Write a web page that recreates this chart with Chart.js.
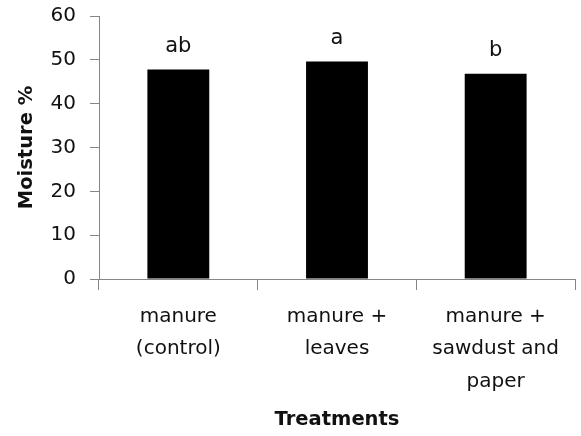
<!DOCTYPE html>
<html>
<head>
<meta charset="utf-8">
<script src="https://cdn.jsdelivr.net/npm/chart.js@4.4.1/dist/chart.umd.min.js"></script>
<style>
  html, body { margin: 0; padding: 0; background: #ffffff; }
  #wrap { width: 581px; height: 436px; }
</style>
</head>
<body>
<div id="wrap"><canvas id="chart" width="581" height="436"></canvas></div>
<script>
// Treatments (multi-line category labels)
const categories = [
  ["manure", "(control)"],
  ["manure +", "leaves"],
  ["manure +", "sawdust and", "paper"]
];
// Mean moisture content (%) per treatment
const moisture = [47.8, 49.6, 46.8];
// Significance grouping letters shown above each bar
const groupLetters = ["ab", "a", "b"];
// Y axis range and step
const yMin = 0;
const yMax = 60;
const yStep = 10;

const axisGray = "#868686";
const textDark = "#111111";
const fontFamily = "'DejaVu Sans', Verdana, sans-serif";

// Draws the grouping letters above the bars
const letterPlugin = {
  id: "groupLetters",
  afterDatasetsDraw(chart) {
    const ctx = chart.ctx;
    const meta = chart.getDatasetMeta(0);
    ctx.save();
    ctx.font = "21px " + fontFamily;
    ctx.fillStyle = textDark;
    ctx.textAlign = "center";
    ctx.textBaseline = "middle";
    meta.data.forEach((bar, i) => {
      ctx.fillText(groupLetters[i], bar.x, bar.y - 23);
    });
    ctx.restore();
  }
};

new Chart(document.getElementById("chart"), {
  type: "bar",
  data: {
    labels: categories,
    datasets: [{
      data: moisture,
      backgroundColor: "#000000",
      borderColor: "#000000",
      borderWidth: 0,
      categoryPercentage: 0.39,
      barPercentage: 1.0
    }]
  },
  options: {
    responsive: false,
    animation: false,
    devicePixelRatio: 1,
    layout: { padding: { top: 16, right: 6, left: 0, bottom: 0 } },
    plugins: {
      legend: { display: false },
      tooltip: { enabled: false }
    },
    scales: {
      x: {
        afterFit(scale) {
          scale.height = 157;
          scale.paddingLeft = 0;
          scale.paddingRight = 0;
        },
        border: { display: true, color: axisGray, width: 1 },
        grid: {
          display: true,
          offset: true,
          drawOnChartArea: false,
          drawTicks: true,
          tickLength: 11,
          color: axisGray
        },
        ticks: {
          color: textDark,
          padding: 10,
          maxRotation: 0,
          autoSkip: false,
          font: { family: fontFamily, size: 20, lineHeight: 1.63 }
        },
        title: {
          display: true,
          text: "Treatments",
          color: textDark,
          padding: { top: 0, bottom: 4 },
          font: { family: fontFamily, size: 19.5, weight: "bold", lineHeight: 1.2 }
        }
      },
      y: {
        min: yMin,
        max: yMax,
        afterFit(scale) {
          scale.width = 99;
          scale.paddingTop = 0;
          scale.paddingBottom = 0;
        },
        border: { display: true, color: axisGray, width: 1 },
        grid: {
          display: true,
          drawOnChartArea: false,
          drawTicks: true,
          tickLength: 9,
          color: axisGray
        },
        ticks: {
          stepSize: yStep,
          color: textDark,
          padding: 14,
          font: { family: fontFamily, size: 20 }
        },
        title: {
          display: true,
          text: "Moisture %",
          color: textDark,
          padding: { top: 15, bottom: 0 },
          font: { family: fontFamily, size: 19.5, weight: "bold", lineHeight: 1.2 }
        }
      }
    }
  },
  plugins: [letterPlugin]
});
</script>
</body>
</html>
